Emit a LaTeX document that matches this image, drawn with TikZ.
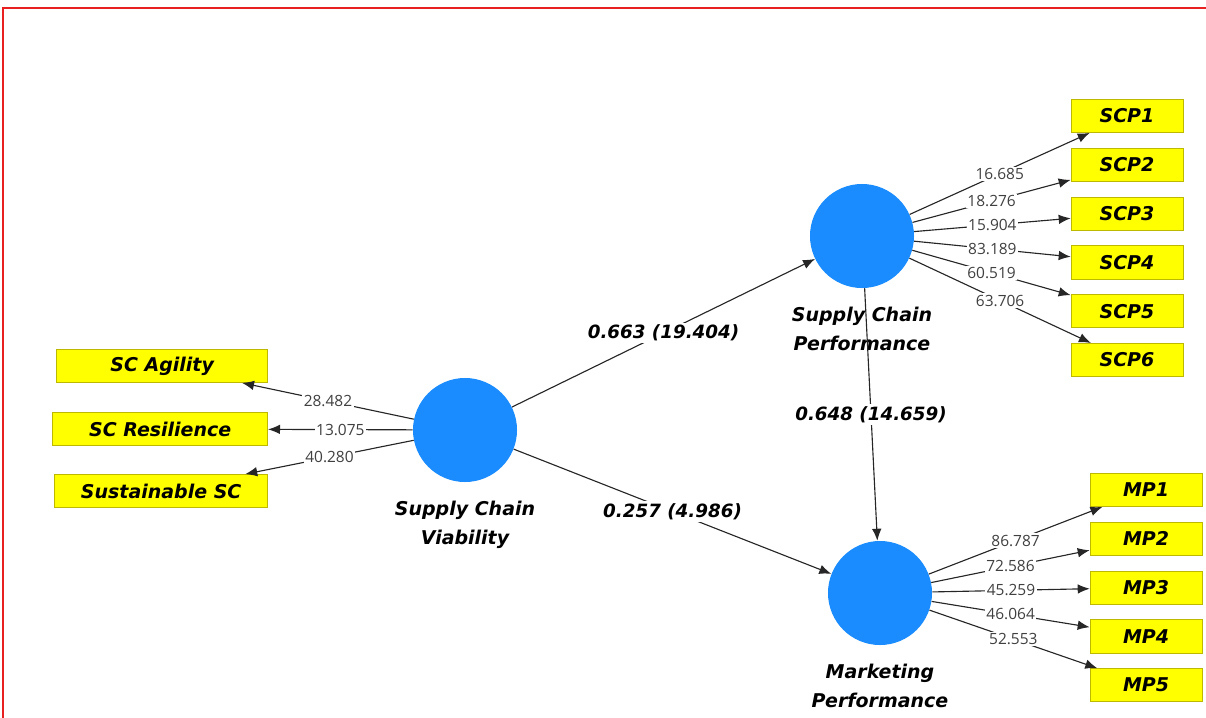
\documentclass[tikz,border=0pt]{standalone}
\usepackage{fontspec}
\setmainfont{Open Sans}
\newfontfamily\lvfont{DejaVu Sans}
\usetikzlibrary{arrows.meta,positioning}
\definecolor{lvblue}{HTML}{1A8CFF}
\definecolor{indyellow}{HTML}{FFFF00}
\definecolor{indedge}{HTML}{BDB800}
\definecolor{framered}{HTML}{E82020}

\begin{document}
\begin{tikzpicture}[x=0.025cm, y=-0.025cm,
  lv/.style={circle, fill=lvblue, minimum size=2.6cm, inner sep=0pt},
  ind/.style={draw=indedge, fill=indyellow, minimum height=0.83cm, minimum width=2.8cm, inner sep=0pt, font=\lvfont\fontsize{13.5}{16}\selectfont\bfseries\itshape},
  lvname/.style={align=center, inner sep=0pt, font=\lvfont\fontsize{13.5}{21}\selectfont\bfseries\itshape},
  wt/.style={fill=white, inner sep=1pt, pos=0.5, text=black!75, font=\fontsize{11}{13}\selectfont},
  pc/.style={fill=white, inner sep=1.5pt, pos=0.5, font=\lvfont\fontsize{13}{16}\selectfont\bfseries\itshape},
  arr/.style={-{Latex[length=3mm,width=2.4mm]}, line width=0.8pt, draw=black!85}
]
\useasboundingbox (0,0) rectangle (1206,718);
\draw[framered, line width=1.2pt] (3,730) -- (3,8) -- (1215,8);
%
% latent variables
\node[lv] (scv) at (465,430) {};
\node[lv] (scp) at (862,236) {};
\node[lv] (mp) at (880,593) {};
\node[lvname, below=0.45cm of scv] (scvname) {Supply Chain\\Viability};
\node[lvname, below=0.45cm of scp] (scpname) {Supply Chain\\Performance};
\node[lvname, below=0.45cm of mp] (mpname) {Marketing\\Performance};
%
% first order dimensions of viability
\node[ind, minimum width=5.275cm, anchor=east] (agil) at (268,366) {SC Agility};
\node[ind, minimum width=5.375cm, anchor=east] (resil) at (268,429) {SC Resilience};
\node[ind, minimum width=5.325cm, anchor=east] (sust) at (268,491) {Sustainable SC};
%
% supply chain performance items
\node[ind] (scp1) at (1127,116) {SCP1};
\node[ind, below=0.375cm of scp1] (scp2) {SCP2};
\node[ind, below=0.375cm of scp2] (scp3) {SCP3};
\node[ind, below=0.375cm of scp3] (scp4) {SCP4};
\node[ind, below=0.375cm of scp4] (scp5) {SCP5};
\node[ind, below=0.375cm of scp5] (scp6) {SCP6};
%
% marketing performance items
\node[ind] (mp1) at (1146,490) {MP1};
\node[ind, below=0.375cm of mp1] (mp2) {MP2};
\node[ind, below=0.375cm of mp2] (mp3) {MP3};
\node[ind, below=0.375cm of mp3] (mp4) {MP4};
\node[ind, below=0.375cm of mp4] (mp5) {MP5};
%
% structural paths
\draw[arr] (scv) -- (scp) node[pc] {0.663 (19.404)};
\draw[arr] (scv) -- (mp) node[pc] {0.257 (4.986)};
\draw[arr] (scp) -- (mp) node[pc] {0.648 (14.659)};
%
% outer weights
\draw[arr] (scv) -- (agil) node[wt] {28.482};
\draw[arr] (scv) -- (resil) node[wt] {13.075};
\draw[arr] (scv) -- (sust) node[wt] {40.280};
%
\draw[arr] (scp) -- (scp1) node[wt] {16.685};
\draw[arr] (scp) -- (scp2) node[wt] {18.276};
\draw[arr] (scp) -- (scp3) node[wt] {15.904};
\draw[arr] (scp) -- (scp4) node[wt] {83.189};
\draw[arr] (scp) -- (scp5) node[wt] {60.519};
\draw[arr] (scp) -- (scp6) node[wt] {63.706};
%
\draw[arr] (mp) -- (mp1) node[wt] {86.787};
\draw[arr] (mp) -- (mp2) node[wt] {72.586};
\draw[arr] (mp) -- (mp3) node[wt] {45.259};
\draw[arr] (mp) -- (mp4) node[wt] {46.064};
\draw[arr] (mp) -- (mp5) node[wt] {52.553};
\end{tikzpicture}
\end{document}
